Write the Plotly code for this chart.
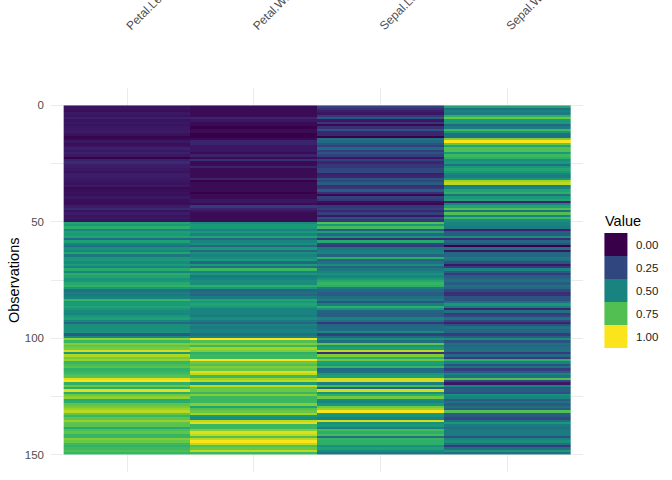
import plotly.graph_objects as go
from plotly.colors import sample_colorscale

# Iris measurements (observation order 1..150)
sepal_length = [5.1,4.9,4.7,4.6,5.0,5.4,4.6,5.0,4.4,4.9,5.4,4.8,4.8,4.3,5.8,5.7,5.4,5.1,5.7,5.1,
                5.4,5.1,4.6,5.1,4.8,5.0,5.0,5.2,5.2,4.7,4.8,5.4,5.2,5.5,4.9,5.0,5.5,4.9,4.4,5.1,
                5.0,4.5,4.4,5.0,5.1,4.8,5.1,4.6,5.3,5.0,
                7.0,6.4,6.9,5.5,6.5,5.7,6.3,4.9,6.6,5.2,5.0,5.9,6.0,6.1,5.6,6.7,5.6,5.8,6.2,5.6,
                5.9,6.1,6.3,6.1,6.4,6.6,6.8,6.7,6.0,5.7,5.5,5.5,5.8,6.0,5.4,6.0,6.7,6.3,5.6,5.5,
                5.5,6.1,5.8,5.0,5.6,5.7,5.7,6.2,5.1,5.7,
                6.3,5.8,7.1,6.3,6.5,7.6,4.9,7.3,6.7,7.2,6.5,6.4,6.8,5.7,5.8,6.4,6.5,7.7,7.7,6.0,
                6.9,5.6,7.7,6.3,6.7,7.2,6.2,6.1,6.4,7.2,7.4,7.9,6.4,6.3,6.1,7.7,6.3,6.4,6.0,6.9,
                6.7,6.9,5.8,6.8,6.7,6.7,6.3,6.5,6.2,5.9]
sepal_width = [3.5,3.0,3.2,3.1,3.6,3.9,3.4,3.4,2.9,3.1,3.7,3.4,3.0,3.0,4.0,4.4,3.9,3.5,3.8,3.8,
               3.4,3.7,3.6,3.3,3.4,3.0,3.4,3.5,3.4,3.2,3.1,3.4,4.1,4.2,3.1,3.2,3.5,3.6,3.0,3.4,
               3.5,2.3,3.2,3.5,3.8,3.0,3.8,3.2,3.7,3.3,
               3.2,3.2,3.1,2.3,2.8,2.8,3.3,2.4,2.9,2.7,2.0,3.0,2.2,2.9,2.9,3.1,3.0,2.7,2.2,2.5,
               3.2,2.8,2.5,2.8,2.9,3.0,2.8,3.0,2.9,2.6,2.4,2.4,2.7,2.7,3.0,3.4,3.1,2.3,3.0,2.5,
               2.6,3.0,2.6,2.3,2.7,3.0,2.9,2.9,2.5,2.8,
               3.3,2.7,3.0,2.9,3.0,3.0,2.5,2.9,2.5,3.6,3.2,2.7,3.0,2.5,2.8,3.2,3.0,3.8,2.6,2.2,
               3.2,2.8,2.8,2.7,3.3,3.2,2.8,3.0,2.8,3.0,2.8,3.8,2.8,2.8,2.6,3.0,3.4,3.1,3.0,3.1,
               3.1,3.1,2.7,3.2,3.3,3.0,2.5,3.0,3.4,3.0]
petal_length = [1.4,1.4,1.3,1.5,1.4,1.7,1.4,1.5,1.4,1.5,1.5,1.6,1.4,1.1,1.2,1.5,1.3,1.4,1.7,1.5,
                1.7,1.5,1.0,1.7,1.9,1.6,1.6,1.5,1.4,1.6,1.6,1.5,1.5,1.4,1.5,1.2,1.3,1.4,1.3,1.5,
                1.3,1.3,1.3,1.6,1.9,1.4,1.6,1.4,1.5,1.4,
                4.7,4.5,4.9,4.0,4.6,4.5,4.7,3.3,4.6,3.9,3.5,4.2,4.0,4.7,3.6,4.4,4.5,4.1,4.5,3.9,
                4.8,4.0,4.9,4.7,4.3,4.4,4.8,5.0,4.5,3.5,3.8,3.7,3.9,5.1,4.5,4.5,4.7,4.4,4.1,4.0,
                4.4,4.6,4.0,3.3,4.2,4.2,4.2,4.3,3.0,4.1,
                6.0,5.1,5.9,5.6,5.8,6.6,4.5,6.3,5.8,6.1,5.1,5.3,5.5,5.0,5.1,5.3,5.5,6.7,6.9,5.0,
                5.7,4.9,6.7,4.9,5.7,6.0,4.8,4.9,5.6,5.8,6.1,6.4,5.6,5.1,5.6,6.1,5.6,5.5,4.8,5.4,
                5.6,5.1,5.1,5.9,5.7,5.2,5.0,5.2,5.4,5.1]
petal_width = [0.2,0.2,0.2,0.2,0.2,0.4,0.3,0.2,0.2,0.1,0.2,0.2,0.1,0.1,0.2,0.4,0.4,0.3,0.3,0.3,
               0.2,0.4,0.2,0.5,0.2,0.2,0.4,0.2,0.2,0.2,0.2,0.4,0.1,0.2,0.2,0.2,0.2,0.1,0.2,0.2,
               0.3,0.3,0.2,0.6,0.4,0.3,0.2,0.2,0.2,0.2,
               1.4,1.5,1.5,1.3,1.5,1.3,1.6,1.0,1.3,1.4,1.0,1.5,1.0,1.4,1.3,1.4,1.5,1.0,1.5,1.1,
               1.8,1.3,1.5,1.2,1.3,1.4,1.4,1.7,1.5,1.0,1.1,1.0,1.2,1.6,1.5,1.6,1.5,1.3,1.3,1.3,
               1.2,1.4,1.2,1.0,1.3,1.2,1.3,1.3,1.1,1.3,
               2.5,1.9,2.1,1.8,2.2,2.1,1.7,1.8,1.8,2.5,2.0,1.9,2.1,2.0,2.4,2.3,1.8,2.2,2.3,1.5,
               2.3,2.0,2.0,1.8,2.1,1.8,1.8,1.8,2.1,1.6,1.9,2.0,2.2,1.5,1.4,2.3,2.4,1.8,1.8,2.1,
               2.4,2.3,1.9,2.3,2.5,2.3,1.9,2.0,2.3,1.8]

variables = ["Petal.Length", "Petal.Width", "Sepal.Length", "Sepal.Width"]
columns = [petal_length, petal_width, sepal_length, sepal_width]

y_ticks = [0, 50, 100, 150]
y_minor = [25, 75, 125]
legend_breaks = [0.0, 0.25, 0.5, 0.75, 1.0]
legend_labels = ["0.00", "0.25", "0.50", "0.75", "1.00"]

# viridis, slightly darkened in the mid-tones as in the reference rendering
viridis = ["#370048", "#3C1C68", "#36397B", "#2B5482", "#216C83", "#19847F",
           "#1A9D77", "#37B662", "#6CC844", "#AFD81E", "#FCE41D"]
cscale = [[i / (len(viridis) - 1), c] for i, c in enumerate(viridis)]


def rescale(col):
    lo, hi = min(col), max(col)
    return [(v - lo) / (hi - lo) for v in col]


scaled = [rescale(c) for c in columns]
n = len(sepal_length)
z = [[scaled[j][i] for j in range(len(variables))] for i in range(n)]
obs = [i + 0.5 for i in range(n)]

fig = go.Figure()
fig.add_trace(go.Heatmap(
    z=z, x=variables, y=obs, colorscale=cscale, zmin=0, zmax=1,
    showscale=False, hoverongaps=False,
))

W, H = 672, 480
L, R, T, B = 51, 89.4, 88, 8
pw, ph = W - L - R, H - T - B


def px_x(x):
    return (x - L) / pw


def px_y(y):
    return (H - B - y) / ph


font_family = "Liberation Sans, Arial, sans-serif"
grid = "#EBEBEB"

shapes = []
annotations = []
key_colors = sample_colorscale(cscale, legend_breaks)
key_top, key_h, key_x0, key_w = 233, 23, 604, 23
for k, (col, lab) in enumerate(zip(key_colors, legend_labels)):
    y0 = key_top + k * key_h
    shapes.append(dict(type="rect", xref="paper", yref="paper",
                       x0=px_x(key_x0), x1=px_x(key_x0 + key_w),
                       y0=px_y(y0 + key_h), y1=px_y(y0),
                       fillcolor=col, line=dict(width=0), layer="above"))
    annotations.append(dict(xref="paper", yref="paper", x=px_x(634), y=px_y(y0 + key_h / 2),
                            text=lab, showarrow=False, xanchor="left", yanchor="middle",
                            font=dict(family=font_family, size=11.5, color="#1A1A1A")))
annotations.append(dict(xref="paper", yref="paper", x=px_x(603), y=px_y(221),
                        text="Value", showarrow=False, xanchor="left", yanchor="middle",
                        font=dict(family=font_family, size=14.5, color="#000000")))
annotations.append(dict(xref="paper", yref="paper", x=px_x(14), y=px_y(280),
                        text="Observations", showarrow=False, textangle=-90,
                        xanchor="center", yanchor="middle",
                        font=dict(family=font_family, size=14.5, color="#000000")))

fig.update_layout(
    width=W, height=H,
    margin=dict(l=L, r=R, t=T, b=B, pad=0),
    paper_bgcolor="white", plot_bgcolor="white",
    font=dict(family=font_family),
    shapes=shapes, annotations=annotations,
    showlegend=False,
    xaxis=dict(side="top", tickangle=-45, range=[-0.6, 3.6], showgrid=True,
               gridcolor=grid, gridwidth=1.1, zeroline=False, ticks="",
               showline=False, automargin=False, ticklabelstandoff=52,
               tickfont=dict(family=font_family, size=12, color="#4D4D4D")),
    yaxis=dict(range=[157.5, -7.5], tickvals=y_ticks, showgrid=True,
               gridcolor=grid, gridwidth=1.1, zeroline=False, ticks="",
               showline=False, automargin=False, ticklabelstandoff=6,
               minor=dict(tickvals=y_minor, showgrid=True, gridcolor=grid, gridwidth=0.55),
               tickfont=dict(family=font_family, size=11.5, color="#4D4D4D")),
)

fig.write_html("out.html", config={"displayModeBar": False},
               post_script="document.body.style.margin='0';document.body.style.overflow='hidden';")
